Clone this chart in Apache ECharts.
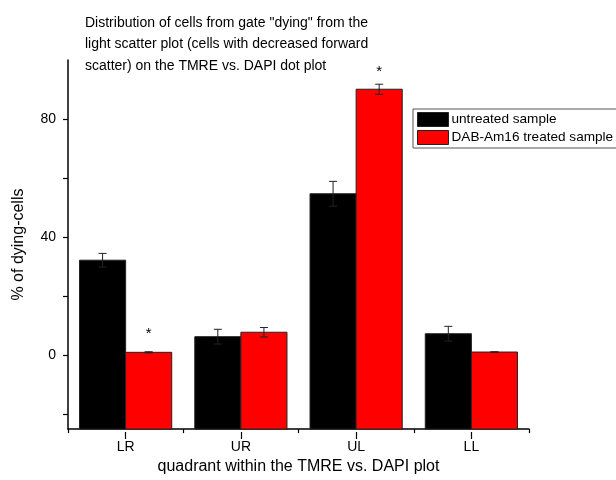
<!DOCTYPE html>
<html>
<head>
<meta charset="utf-8">
<script src="https://cdn.jsdelivr.net/npm/echarts@6/dist/echarts.min.js"></script>
<style>
  html, body { margin: 0; padding: 0; background: #fff; }
  #chart { width: 616px; height: 480px; }
</style>
</head>
<body>
<div id="chart"></div>
<script>
// Quadrants of the TMRE vs. DAPI dot plot
const quadrants = ['LR', 'UR', 'UL', 'LL'];

// Mean % of dying cells per quadrant and their error (SD)
const untreated = [32.2, 6.3, 54.7, 7.3];
const untreatedErr = [2.3, 2.5, 4.2, 2.5];
const treated = [1.0, 7.8, 90.1, 1.1];
const treatedErr = [0.2, 1.6, 1.7, 0.1];

// Significance markers above the treated bars and the height they sit at
const signif = ['*', '', '*', ''];
const signifHeight = [8.6, null, 97.4, null];

// Y axis range, labelled and tick values
const yMin = -25;
const yMax = 100;
const yLabels = [0, 40, 80];
const yTicks = [-20, 0, 20, 40, 60, 80];

const FONT = 'Liberation Sans, Arial, sans-serif';
const COLORS = ['#000000', '#ff0000'];

const GRID = { left: 68, right: 87, top: 60, bottom: 48 };
const PLOT_H = 480 - GRID.top - GRID.bottom;

const chart = echarts.init(document.getElementById('chart'), null, { renderer: 'canvas' });

// Bars rise from the bottom of the value axis; side -1 = left half, +1 = right half
function barRenderer(values, errs, side, color, marks, markHeights) {
  return function (params, api) {
    const i = api.value(0);
    const v = values[i];
    const e = errs[i];
    const catW = api.size([1, 0])[0];
    const barW = catW * 0.8 / 2;
    const centre = api.coord([i, v]);
    const x = centre[0] + side * barW / 2;
    const yTop = centre[1];
    const yBase = api.coord([i, yMin])[1];
    const top = api.coord([i, v + e])[1];
    const bot = api.coord([i, v - e])[1];
    const cap = 4;
    const eStyle = { stroke: '#222', lineWidth: 1 };
    const children = [
      {
        type: 'rect',
        shape: { x: x - barW / 2, y: yTop, width: barW, height: yBase - yTop },
        style: { fill: color, stroke: '#222', lineWidth: 1 }
      },
      { type: 'line', shape: { x1: x, y1: top, x2: x, y2: bot }, style: eStyle },
      { type: 'line', shape: { x1: x - cap, y1: top, x2: x + cap, y2: top }, style: eStyle },
      { type: 'line', shape: { x1: x - cap, y1: bot, x2: x + cap, y2: bot }, style: eStyle }
    ];
    if (marks && marks[i]) {
      const my = api.coord([i, markHeights[i]])[1];
      children.push({
        type: 'text',
        style: {
          x: x, y: my + 4, text: marks[i], fill: '#000',
          font: '15px ' + FONT, align: 'center', verticalAlign: 'middle'
        }
      });
    }
    return { type: 'group', children: children };
  };
}

const idx = quadrants.map((q, i) => i);

const option = {
  animation: false,
  backgroundColor: '#fff',
  textStyle: { fontFamily: FONT },
  title: {
    text: 'Distribution of cells from gate "dying" from the\nlight scatter plot (cells with decreased forward\nscatter) on the TMRE vs. DAPI dot plot',
    left: 85,
    top: 12,
    padding: 0,
    textStyle: { fontSize: 14, fontWeight: 'normal', color: '#000', lineHeight: 21.5, fontFamily: FONT }
  },
  legend: {
    orient: 'vertical',
    left: 413,
    top: 109,
    padding: [3, 6, 3, 4],
    itemGap: 3,
    itemWidth: 31,
    itemHeight: 14,
    icon: 'rect',
    borderColor: '#555',
    borderWidth: 1,
    textStyle: { fontSize: 13.6, color: '#000', fontFamily: FONT, padding: [0, 0, 0, -2] },
    data: [
      { name: 'untreated sample', itemStyle: { color: COLORS[0], borderColor: '#222', borderWidth: 1 } },
      { name: 'DAB-Am16 treated sample', itemStyle: { color: COLORS[1], borderColor: '#222', borderWidth: 1 } }
    ]
  },
  grid: GRID,
  xAxis: [
    {
      type: 'category',
      data: quadrants,
      position: 'bottom',
      boundaryGap: true,
      name: 'quadrant within the TMRE vs. DAPI plot',
      nameLocation: 'middle',
      nameGap: 29,
      nameTextStyle: { fontSize: 16, color: '#000', fontFamily: FONT },
      axisLine: { show: true, onZero: false, lineStyle: { color: '#000', width: 1.5 } },
      axisTick: { show: true, length: 4, lineStyle: { color: '#000', width: 1.2 } },
      axisLabel: { fontSize: 14, color: '#000', margin: 11, fontFamily: FONT },
      splitLine: { show: false }
    },
    {
      // Longer tick marks under each category label, laid over the bottom axis
      type: 'category',
      data: quadrants,
      position: 'top',
      offset: -PLOT_H,
      axisLine: { show: false, onZero: false },
      axisTick: { show: true, inside: true, alignWithLabel: true, length: 7, lineStyle: { color: '#000', width: 1.2 } },
      axisLabel: { show: false },
      splitLine: { show: false }
    }
  ],
  yAxis: {
    type: 'value',
    min: yMin,
    max: yMax,
    name: '% of dying-cells',
    nameLocation: 'middle',
    nameGap: 41,
    nameTextStyle: { fontSize: 16, color: '#000', fontFamily: FONT },
    axisLine: { show: true, lineStyle: { color: '#000', width: 1.5 } },
    axisTick: { show: true, length: 5, customValues: yTicks, lineStyle: { color: '#000', width: 1.2 } },
    axisLabel: { fontSize: 14, color: '#000', margin: 12, customValues: yLabels, fontFamily: FONT },
    splitLine: { show: false }
  },
  series: [
    {
      name: 'untreated sample',
      type: 'custom',
      renderItem: barRenderer(untreated, untreatedErr, -1, COLORS[0]),
      data: idx,
      encode: { x: 0 },
      itemStyle: { color: COLORS[0] },
      silent: true
    },
    {
      name: 'DAB-Am16 treated sample',
      type: 'custom',
      renderItem: barRenderer(treated, treatedErr, 1, COLORS[1], signif, signifHeight),
      data: idx,
      encode: { x: 0 },
      itemStyle: { color: COLORS[1] },
      silent: true
    }
  ]
};

chart.setOption(option);
</script>
</body>
</html>
